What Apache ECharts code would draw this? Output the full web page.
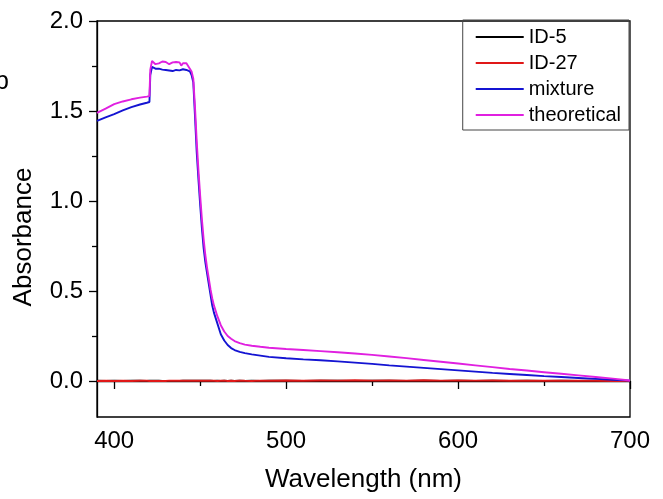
<!DOCTYPE html>
<html>
<head>
<meta charset="utf-8">
<script src="https://cdn.jsdelivr.net/npm/echarts@6/dist/echarts.min.js"></script>
<style>
html,body{margin:0;padding:0;background:#fff;}
#chart{width:663px;height:499px;}
</style>
</head>
<body>
<div id="chart"></div>
<script>
// Wavelength (nm)
const wavelengths = [390, 395, 400, 405, 410, 415, 419, 420.5, 421, 422, 423, 424, 425, 426, 427, 428, 429, 430, 431, 432, 433, 434, 435, 436, 437, 438, 439, 440, 441, 442, 443, 444, 445, 446, 447, 448, 449, 450, 451, 452, 453, 454, 455, 456, 457, 458, 460, 462, 464, 466, 468, 470, 473, 476, 480, 485, 490, 500, 510, 520, 530, 540, 550, 560, 570, 580, 590, 600, 610, 620, 630, 640, 650, 660, 670, 680, 690, 700];

const id5 = [0.001, 0.000, 0.001, 0.000, 0.001, 0.001, 0.000, 0.001, 0.000, 0.001, 0.000, 0.001, 0.000, 0.001, 0.001, 0.000, 0.001, 0.000, 0.001, 0.000, 0.001, 0.000, 0.001, 0.000, 0.001, 0.000, 0.001, 0.001, 0.000, 0.001, 0.000, 0.001, 0.000, 0.001, 0.000, 0.001, 0.000, 0.001, 0.000, 0.001, 0.000, 0.001, 0.000, 0.001, 0.001, 0.000, 0.001, 0.000, 0.001, 0.000, 0.001, 0.000, 0.001, 0.000, 0.001, 0.000, 0.001, 0.001, 0.000, 0.001, 0.001, 0.000, 0.001, 0.001, 0.000, 0.001, 0.000, 0.001, 0.000, 0.001, 0.000, 0.001, 0.000, 0.001, 0.000, 0.001, 0.000, 0.000];

const id27 = [0.000, 0.001, 0.000, 0.001, 0.000, 0.001, 0.001, 0.000, 0.001, 0.000, 0.001, 0.000, 0.002, 0.000, 0.001, 0.000, 0.001, 0.000, 0.001, 0.002, 0.000, 0.001, 0.000, 0.001, 0.000, 0.002, 0.000, 0.001, 0.000, 0.001, 0.000, 0.001, 0.000, 0.001, 0.000, 0.001, 0.000, 0.001, 0.000, 0.001, 0.000, 0.002, 0.000, 0.001, 0.000, 0.001, 0.000, 0.001, 0.002, 0.000, 0.001, 0.000, 0.002, 0.001, 0.000, 0.002, 0.001, 0.003, 0.001, 0.003, 0.002, 0.004, 0.002, 0.003, 0.002, 0.004, 0.002, 0.003, 0.002, 0.003, 0.001, 0.002, 0.001, 0.002, 0.001, 0.001, 0.000, 0.000];

const mixture = [1.445, 1.465, 1.483, 1.503, 1.522, 1.536, 1.546, 1.550, 1.700, 1.745, 1.740, 1.735, 1.730, 1.735, 1.730, 1.730, 1.735, 1.728, 1.730, 1.725, 1.728, 1.722, 1.712, 1.728, 1.730, 1.726, 1.730, 1.732, 1.728, 1.728, 1.725, 1.720, 1.700, 1.660, 1.470, 1.270, 1.120, 0.980, 0.850, 0.740, 0.660, 0.600, 0.540, 0.480, 0.420, 0.380, 0.320, 0.260, 0.225, 0.200, 0.183, 0.172, 0.162, 0.155, 0.148, 0.141, 0.134, 0.126, 0.120, 0.115, 0.109, 0.102, 0.095, 0.087, 0.080, 0.073, 0.066, 0.059, 0.052, 0.045, 0.039, 0.033, 0.027, 0.022, 0.017, 0.012, 0.007, 0.002];

const theoretical = [1.490, 1.513, 1.538, 1.553, 1.565, 1.574, 1.580, 1.583, 1.730, 1.778, 1.770, 1.760, 1.752, 1.765, 1.770, 1.775, 1.780, 1.772, 1.765, 1.760, 1.758, 1.770, 1.765, 1.772, 1.780, 1.770, 1.752, 1.765, 1.770, 1.765, 1.750, 1.745, 1.720, 1.680, 1.520, 1.330, 1.170, 1.030, 0.900, 0.790, 0.700, 0.630, 0.570, 0.510, 0.460, 0.420, 0.360, 0.310, 0.275, 0.250, 0.235, 0.222, 0.210, 0.202, 0.196, 0.190, 0.185, 0.178, 0.172, 0.166, 0.160, 0.153, 0.145, 0.136, 0.127, 0.117, 0.107, 0.097, 0.087, 0.077, 0.067, 0.058, 0.049, 0.040, 0.031, 0.022, 0.013, 0.003];

const seriesNames = ['ID-5', 'ID-27', 'mixture', 'theoretical'];
const seriesColors = ['#000000', '#e01818', '#1414d2', '#e020e0'];
const seriesValues = [id5, id27, mixture, theoretical];

const xMajorTicks = [400, 500, 600, 700];
const xMinorTicks = [450, 550, 650];
const yMajorTicks = [0, 0.5, 1.0, 1.5, 2.0];
const yMinorTicks = [0.25, 0.75, 1.25, 1.75];

const FONT = 'Liberation Sans, Arial, sans-serif';
const chart = echarts.init(document.getElementById('chart'), null, {renderer: 'canvas'});

const series = seriesNames.map((name, k) => ({
  name: name,
  type: 'line',
  xAxisIndex: 0,
  yAxisIndex: 0,
  symbol: 'none',
  showSymbol: false,
  animation: false,
  lineStyle: {color: seriesColors[k], width: 1.9},
  itemStyle: {color: seriesColors[k]},
  data: wavelengths.map((w, i) => [w, seriesValues[k][i]])
}));

chart.setOption({
  animation: false,
  backgroundColor: '#ffffff',
  grid: {left: 97, right: 33, top: 21, bottom: 82, show: true, borderColor: '#000', borderWidth: 1.3, backgroundColor: 'transparent'},
  legend: {
    orient: 'vertical',
    right: 34,
    top: 20,
    data: seriesNames,
    icon: 'rect',
    borderColor: '#444',
    borderWidth: 1,
    padding: [7, 8, 5, 13],
    itemWidth: 48,
    itemHeight: 2,
    itemGap: 6,
    textStyle: {fontFamily: FONT, fontSize: 20, color: '#000', lineHeight: 20}
  },
  xAxis: [{
    type: 'value', min: 390, max: 700, position: 'bottom',
    name: 'Wavelength (nm)', nameLocation: 'middle', nameGap: 50,
    nameTextStyle: {fontFamily: FONT, fontSize: 26, color: '#000'},
    axisLine: {show: true, lineStyle: {color: '#000', width: 1.3}},
    axisTick: {show: true, customValues: xMajorTicks, length: 8, lineStyle: {color: '#000', width: 1.3}},
    axisLabel: {show: true, customValues: xMajorTicks, fontFamily: FONT, fontSize: 24, color: '#000', margin: 12},
    splitLine: {show: false}
  }, {
    type: 'value', min: 390, max: 700, position: 'bottom',
    axisLine: {show: false},
    axisTick: {show: true, customValues: xMinorTicks, length: 5, lineStyle: {color: '#000', width: 1.3}},
    axisLabel: {show: false},
    splitLine: {show: false}
  }],
  yAxis: [{
    type: 'value', min: -0.2, max: 2.0, position: 'left',
    name: 'Absorbance', nameLocation: 'middle', nameGap: 60,
    nameTextStyle: {fontFamily: FONT, fontSize: 26, color: '#000', padding: [0, 36, 0, 0]},
    axisLine: {show: true, lineStyle: {color: '#000', width: 1.3}},
    axisTick: {show: true, customValues: yMajorTicks, length: 8, lineStyle: {color: '#000', width: 1.3}},
    axisLabel: {show: true, customValues: yMajorTicks, fontFamily: FONT, fontSize: 24, color: '#000', margin: 14,
      formatter: v => v.toFixed(1)},
    splitLine: {show: false}
  }, {
    type: 'value', min: -0.2, max: 2.0, position: 'left',
    axisLine: {show: false},
    axisTick: {show: true, customValues: yMinorTicks, length: 5, lineStyle: {color: '#000', width: 1.3}},
    axisLabel: {show: false},
    splitLine: {show: false}
  }],
  graphic: [{
    type: 'text', left: -5, top: 70,
    style: {text: 'b', fontFamily: FONT, fontSize: 25, fill: '#000'}
  }],
  series: series
});
</script>
</body>
</html>
